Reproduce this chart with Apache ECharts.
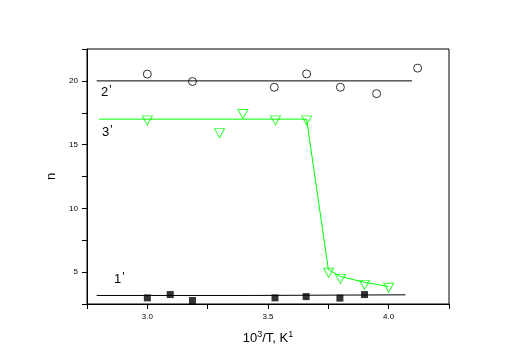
<!DOCTYPE html>
<html><head><meta charset="utf-8">
<script src="https://cdn.jsdelivr.net/npm/echarts@6/dist/echarts.min.js"></script>
<style>html,body{margin:0;padding:0;background:#fff}#c{width:517px;height:364px}</style>
</head><body><div id="c"></div>
<script>
// Series 1 (filled squares)
const s1X = [3.0, 3.095, 3.187, 3.529, 3.658, 3.798, 3.90];
const s1Y = [2.98, 3.24, 2.77, 2.98, 3.08, 2.96, 3.24];
const fit1 = [[2.79, 3.17], [3.43, 3.17], [3.43, 3.22], [4.07, 3.22]];
// Series 2 (open circles)
const s2X = [3.0, 3.187, 3.526, 3.66, 3.80, 3.95, 4.12];
const s2Y = [20.53, 19.95, 19.5, 20.55, 19.5, 19.0, 21.0];
const fit2 = [[2.79, 20.0], [4.097, 20.0]];
// Series 3 (open down-triangles)
const s3X = [3.0, 3.299, 3.396, 3.531, 3.66, 3.751, 3.80, 3.90, 4.0];
const s3Y = [16.9, 15.9, 17.4, 16.9, 16.9, 4.95, 4.47, 4.0, 3.77];
const fit3 = [[2.80, 17.0], [3.66, 17.0], [3.75, 5.2], [3.80, 4.66], [3.90, 4.2], [4.0, 3.87]];
// Curve labels: text and anchor in data coordinates
const curveLabels = ['1', '2', '3'];
const labelAnchors = [[2.862, 5.05], [2.808, 19.72], [2.812, 16.57]];
const xTickLabels = [3.0, 3.5, 4.0];
const yTickLabels = [5, 10, 15, 20];

const zip = (a, b) => a.map((v, i) => [v, b[i]]);
const green = '#00ff00';
const chart = echarts.init(document.getElementById('c'));
const font = 'Liberation Sans, Arial, sans-serif';
chart.setOption({
  animation: false,
  backgroundColor: '#fff',
  grid: { left: 87, right: 68, top: 49, bottom: 60, show: true, borderColor: '#000', borderWidth: 1 },
  xAxis: {
    type: 'value', min: 2.75, max: 4.25, interval: 0.25,
    axisLine: { lineStyle: { color: '#000', width: 1 } },
    axisTick: { show: true, length: 5, inside: false, lineStyle: { color: '#000' } },
    splitLine: { show: false },
    axisLabel: {
      color: '#000', fontSize: 8, fontFamily: font, margin: 9,
      formatter: v => xTickLabels.some(t => Math.abs(t - v) < 1e-6) ? v.toFixed(1) : ''
    },
    name: '10{s|3}/T, K{s|1}', nameLocation: 'middle', nameGap: 26,
    nameTextStyle: { color: '#000', fontSize: 13, fontFamily: font,
      rich: { s: { fontSize: 9, verticalAlign: 'top', padding: [0, 0, 8, 0], color: '#000', fontFamily: font } } }
  },
  yAxis: {
    type: 'value', min: 2.5, max: 22.5, interval: 2.5,
    axisLine: { show: true, lineStyle: { color: '#000', width: 1 } },
    axisTick: { show: true, length: 5, lineStyle: { color: '#000' } },
    splitLine: { show: false },
    axisLabel: {
      color: '#000', fontSize: 8, fontFamily: font, margin: 9,
      formatter: v => yTickLabels.some(t => Math.abs(t - v) < 1e-6) ? String(v) : ''
    },
    name: 'n', nameLocation: 'middle', nameGap: 26,
    nameTextStyle: { color: '#000', fontSize: 13, fontFamily: font }
  },
  series: [
    { type: 'line', data: fit1, symbol: 'none', lineStyle: { color: '#000', width: 1 }, silent: true },
    { type: 'line', data: fit2, symbol: 'none', lineStyle: { color: '#000', width: 1 }, silent: true },
    { type: 'line', data: fit3, symbol: 'none', lineStyle: { color: green, width: 1 }, silent: true },
    { type: 'scatter', data: zip(s1X, s1Y), symbol: 'rect', symbolSize: 7, itemStyle: { color: '#000' } },
    { type: 'scatter', data: zip(s2X, s2Y), symbol: 'circle', symbolSize: 8,
      itemStyle: { color: 'rgba(255,255,255,0)', borderColor: '#000', borderWidth: 1 } },
    { type: 'scatter', data: zip(s3X, s3Y), symbol: 'triangle', symbolRotate: 180, symbolSize: [10, 9],
      itemStyle: { color: 'rgba(255,255,255,0)', borderColor: green, borderWidth: 1 } }
  ]
});
const gfx = curveLabels.map((t, i) => {
  const p = chart.convertToPixel({ gridIndex: 0 }, labelAnchors[i]);
  return {
    type: 'text', x: p[0], y: p[1],
    style: { text: t + '{p|\'}', fill: '#000', font: '13px ' + font,
      rich: { p: { fontSize: 12, verticalAlign: 'top', padding: [0, 0, 4, 1], fill: '#000' } } }
  };
});
chart.setOption({ graphic: gfx });
</script>
</body></html>
